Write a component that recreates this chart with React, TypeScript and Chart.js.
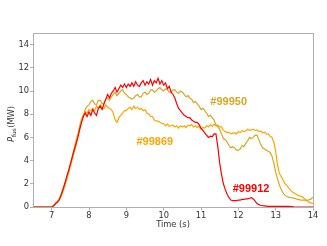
import React, { useEffect, useRef } from "react";
import { Chart, registerables } from "chart.js";

Chart.register(...registerables);

// Time axis (s)
const times = [
  6.5,
  7.0, 7.05, 7.1, 7.15, 7.2, 7.25, 7.3, 7.35, 7.4, 7.45, 7.5, 7.55, 7.6, 7.65, 7.7, 7.75, 7.8, 7.85, 7.9, 7.95,
  8.0, 8.05, 8.1, 8.15, 8.2, 8.25, 8.3, 8.35, 8.4, 8.45, 8.5, 8.55, 8.6, 8.65, 8.7, 8.75, 8.8, 8.85, 8.9, 8.95,
  9.0, 9.05, 9.1, 9.15, 9.2, 9.25, 9.3, 9.35, 9.4, 9.45, 9.5, 9.55, 9.6, 9.65, 9.7, 9.75, 9.8, 9.85, 9.9, 9.95,
  10.0, 10.05, 10.1, 10.15, 10.2, 10.25, 10.3, 10.35, 10.4, 10.45, 10.5, 10.55, 10.6, 10.65, 10.7, 10.75, 10.8, 10.85, 10.9, 10.95,
  11.0, 11.05, 11.1, 11.15, 11.2, 11.25, 11.3, 11.35, 11.4, 11.45, 11.5, 11.55, 11.6, 11.65, 11.7, 11.75, 11.8, 11.85, 11.9, 11.95,
  12.0, 12.05, 12.1, 12.15, 12.2, 12.25, 12.3, 12.35, 12.4, 12.45, 12.5, 12.55, 12.6, 12.65, 12.7, 12.75, 12.8, 12.85, 12.9, 12.95,
  13.0, 13.05, 13.1, 13.15, 13.2, 13.25, 13.3, 13.35, 13.4, 13.45, 13.5, 13.55, 13.6, 13.65, 13.7, 13.75, 13.8, 13.85, 13.9, 13.95,
  14.0,
];

// P_fus (MW) for shot #99912
const shot99912 = [
  0,
  0, 0.1, 0.3, 0.4, 0.6, 1.0, 1.5, 2.0, 2.6, 3.1, 3.7, 4.3, 4.9, 5.4, 6.0, 6.7, 7.3, 7.8, 8.1, 7.8,
  8.2, 7.9, 8.4, 8.1, 7.9, 8.5, 8.7, 8.4, 8.9, 9.3, 9.7, 9.4, 9.8, 10.0, 10.3, 9.9, 10.2, 10.5, 10.3, 10.6,
  10.3, 10.6, 10.4, 10.7, 10.4, 10.8, 10.5, 10.4, 10.7, 10.9, 10.5, 10.8, 10.6, 11.0, 10.5, 10.9, 10.7, 11.1, 10.6, 10.9,
  10.5, 10.7, 10.2, 10.4, 9.9, 9.7, 9.4, 8.9, 8.5, 8.3, 8.1, 7.9, 7.8, 7.7, 7.7, 7.5, 7.4, 7.3, 7.3, 7.1,
  6.8, 6.6, 6.4, 6.2, 6.0, 6.1, 6.05, 6.3, 6.3, 5.2, 3.8, 2.8, 2.0, 1.5, 1.1, 0.8, 0.6, 0.55, 0.55, 0.55,
  0.6, 0.6, 0.65, 0.65, 0.7, 0.7, 0.75, 0.8, 0.7, 0.5, 0.3, 0.2, 0.15, 0.12, 0.1, 0.08, 0.05, 0.05, 0.05, 0.05,
  0.05, 0.05, 0.05, 0.05, 0.05, 0.05, 0.05, 0.05, 0.04, 0.03, 0, 0, 0, 0, 0, 0, 0, 0, 0, 0,
  0,
];

// P_fus (MW) for shot #99950
const shot99950 = [
  0,
  0, 0.1, 0.25, 0.4, 0.6, 0.9, 1.3, 1.8, 2.3, 2.9, 3.5, 4.1, 4.7, 5.3, 6.0, 6.7, 7.4, 7.9, 8.4, 8.7,
  8.8, 9.1, 9.2, 8.9, 8.8, 9.2, 9.2, 8.9, 8.9, 9.3, 9.4, 9.2, 9.5, 9.7, 9.9, 9.6, 9.8, 10.0, 10.1, 9.8,
  9.7, 9.5, 9.4, 9.3, 9.4, 9.6, 9.7, 9.5, 9.5, 9.8, 9.9, 9.7, 9.8, 10.1, 10.1, 9.9, 10.0, 10.2, 10.3, 10.1,
  10.0, 10.2, 10.1, 9.9, 9.9, 10.1, 10.1, 9.9, 9.8, 10.0, 9.9, 9.7, 9.5, 9.6, 9.4, 9.3, 9.0, 9.1, 8.9, 8.7,
  8.4, 8.5, 8.3, 8.1, 7.8, 7.9, 7.7, 7.5, 7.1, 6.9, 6.7, 6.3, 5.9, 5.8, 5.6, 5.3, 5.1, 5.2, 5.1, 4.9,
  4.9, 5.0, 5.3, 5.2, 5.5, 5.7, 6.0, 5.9, 6.0, 6.2, 6.2, 5.8, 5.4, 5.1, 5.0, 4.9, 4.8, 4.7, 4.4, 3.8,
  3.0, 2.4, 1.9, 1.5, 1.2, 1.0, 0.9, 0.85, 0.8, 0.78, 0.75, 0.7, 0.65, 0.62, 0.6, 0.6, 0.6, 0.6, 0.62, 0.7,
  0.85,
];

// P_fus (MW) for shot #99869
const shot99869 = [
  0,
  0, 0.1, 0.3, 0.5, 0.7, 1.1, 1.5, 2.0, 2.5, 3.1, 3.7, 4.3, 5.0, 5.7, 6.3, 7.0, 7.6, 8.0, 8.2, 8.1,
  8.4, 8.3, 8.5, 8.3, 8.7, 8.5, 8.8, 8.6, 8.5, 8.8, 8.6, 8.5, 8.4, 8.1, 7.5, 7.3, 7.7, 7.9, 8.1, 8.3,
  8.3, 8.5, 8.6, 8.4, 8.7, 8.5, 8.6, 8.4, 8.5, 8.3, 8.4, 8.1, 8.0, 7.8, 7.8, 7.5, 7.4, 7.4, 7.3, 7.2,
  7.2, 7.0, 7.15, 6.95, 7.0, 7.05, 6.9, 7.0, 6.8, 7.0, 6.9, 7.0, 6.85, 7.05, 7.0, 7.1, 6.9, 7.0, 6.85, 6.95,
  6.7, 6.85, 6.8, 7.0, 6.9, 7.1, 6.95, 7.15, 7.0, 7.05, 6.9, 6.9, 6.6, 6.5, 6.4, 6.45, 6.3, 6.35, 6.4, 6.3,
  6.5, 6.4, 6.6, 6.5, 6.55, 6.7, 6.6, 6.65, 6.7, 6.6, 6.65, 6.5, 6.55, 6.4, 6.45, 6.3, 6.3, 6.1, 6.0, 5.6,
  4.8, 3.6, 2.9, 2.6, 2.3, 2.0, 1.85, 1.65, 1.45, 1.3, 1.2, 1.1, 1.0, 0.95, 0.9, 0.8, 0.6, 0.5, 0.4, 0.35,
  0.3,
];

const seriesNames = ["#99912", "#99950", "#99869"];
const seriesColors = ["#ff0000", "#daa520", "#ffa500"];

// Annotation text positions (data coordinates)
const annX = [11.85, 11.25, 9.27];
const annY = [1.55, 9.05, 5.6];

const xTickValues = [7, 8, 9, 10, 11, 12, 13, 14];
const yTickValues = [0, 2, 4, 6, 8, 10, 12, 14];

const TICK_FONT = "DejaVu Sans";
const AXIS_GRAY = "#b0b0b0";
const TEXT_GRAY = "#333333";

const framePlugin = {
  id: "frameAndText",
  afterDatasetsDraw(chart: any) {
    const { ctx, chartArea, scales } = chart;
    ctx.save();
    ctx.strokeStyle = AXIS_GRAY;
    ctx.lineWidth = 1;
    ctx.strokeRect(
      Math.round(chartArea.left) + 0.5,
      Math.round(chartArea.top) + 0.5,
      Math.round(chartArea.right - chartArea.left),
      Math.round(chartArea.bottom - chartArea.top)
    );
    ctx.font = "bold 11px 'Liberation Sans', Arial, sans-serif";
    ctx.textAlign = "left";
    ctx.textBaseline = "middle";
    for (let i = 0; i < seriesNames.length; i++) {
      ctx.fillStyle = seriesColors[i];
      ctx.fillText(
        seriesNames[i],
        scales.x.getPixelForValue(annX[i]),
        scales.y.getPixelForValue(annY[i])
      );
    }
    ctx.fillStyle = TEXT_GRAY;
    ctx.font = `8.3px '${TICK_FONT}'`;
    ctx.textAlign = "center";
    ctx.textBaseline = "middle";
    ctx.fillText("Time (s)", (chartArea.left + chartArea.right) / 2, 224.5);
    ctx.translate(11, 124);
    ctx.rotate(-Math.PI / 2);
    const fMain = `8.3px '${TICK_FONT}'`;
    const fItal = `italic 8.3px '${TICK_FONT}'`;
    const fSub = `5.8px '${TICK_FONT}'`;
    ctx.font = fItal;
    const wP = ctx.measureText("P").width;
    ctx.font = fSub;
    const wSub = ctx.measureText("fus").width;
    ctx.font = fMain;
    const wRest = ctx.measureText("(MW)").width;
    const total = wP + wSub + 0.5 + wRest;
    let x0 = -total / 2;
    ctx.textAlign = "left";
    ctx.textBaseline = "alphabetic";
    const base = 3;
    ctx.font = fItal;
    ctx.fillText("P", x0, base);
    x0 += wP;
    ctx.font = fSub;
    ctx.fillText("fus", x0, base + 1.8);
    x0 += wSub + 0.5;
    ctx.font = fMain;
    ctx.fillText("(MW)", x0, base);
    ctx.restore();
  },
};

export default function App() {
  const ref = useRef<HTMLCanvasElement | null>(null);
  useEffect(() => {
    if (!ref.current) return;
    const values = [shot99912, shot99950, shot99869];
    const chart = new Chart(ref.current, {
      type: "line",
      data: {
        datasets: values.map((vals, i) => ({
          label: seriesNames[i],
          data: times.map((t, j) => ({ x: t, y: vals[j] })),
          borderColor: seriesColors[i],
          backgroundColor: seriesColors[i],
          borderWidth: 1.2,
          pointRadius: 0,
          tension: 0,
          fill: false,
        })),
      },
      options: {
        responsive: false,
        animation: false,
        devicePixelRatio: 1,
        layout: { padding: { top: 33, right: 14, left: 0, bottom: 0 } },
        plugins: {
          legend: { display: false },
          tooltip: { enabled: false },
        },
        scales: {
          x: {
            type: "linear",
            min: 6.5,
            max: 14,
            afterBuildTicks: (s: any) => {
              s.ticks = xTickValues.map((v) => ({ value: v }));
            },
            afterFit: (s: any) => {
              s.height = 39;
            },
            grid: {
              drawOnChartArea: false,
              drawTicks: true,
              tickLength: 3.5,
              color: AXIS_GRAY,
            },
            border: { color: AXIS_GRAY },
            ticks: {
              padding: 0,
              color: TEXT_GRAY,
              font: { family: TICK_FONT, size: 8.3 },
              maxRotation: 0,
              autoSkip: false,
            },
          },
          y: {
            type: "linear",
            min: 0,
            max: 15,
            afterBuildTicks: (s: any) => {
              s.ticks = yTickValues.map((v) => ({ value: v }));
            },
            afterFit: (s: any) => {
              s.width = 33;
            },
            grid: {
              drawOnChartArea: false,
              drawTicks: true,
              tickLength: 3,
              color: AXIS_GRAY,
            },
            border: { color: AXIS_GRAY },
            ticks: {
              padding: 1,
              color: TEXT_GRAY,
              font: { family: TICK_FONT, size: 8.3 },
              autoSkip: false,
            },
          },
        },
      },
      plugins: [framePlugin],
    });
    return () => chart.destroy();
  }, []);
  return (
    <div style={{ position: "absolute", left: 0, top: 0, width: 327, height: 246, background: "#fff" }}>
      <canvas ref={ref} width={327} height={246} style={{ display: "block" }} />
    </div>
  );
}
